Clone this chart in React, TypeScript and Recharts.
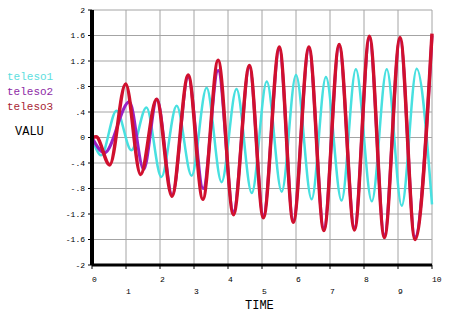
import React from 'react';
import { LineChart, Line, XAxis, YAxis, CartesianGrid } from 'recharts';

// extrema (time, value)
const teleso1 = [
  { t: 0, v: 0 }, { t: 0.27, v: -0.28 }, { t: 0.72, v: 0.42 }, { t: 1.16, v: -0.2 },
  { t: 1.6, v: 0.47 }, { t: 2.04, v: -0.62 }, { t: 2.49, v: 0.5 }, { t: 2.93, v: -0.6 },
  { t: 3.37, v: 0.78 }, { t: 3.81, v: -0.7 }, { t: 4.25, v: 0.76 }, { t: 4.7, v: -0.87 },
  { t: 5.14, v: 0.88 }, { t: 5.58, v: -0.85 }, { t: 6.0, v: 0.98 }, { t: 6.46, v: -0.97 },
  { t: 6.88, v: 0.95 }, { t: 7.34, v: -0.99 }, { t: 7.76, v: 1.07 }, { t: 8.23, v: -1.0 },
  { t: 8.67, v: 1.07 }, { t: 9.11, v: -1.07 }, { t: 9.55, v: 1.08 }, { t: 10, v: -1.05 },
];

const teleso2 = [
  { t: 0, v: 0 }, { t: 0.37, v: -0.24 }, { t: 1.1, v: 0.56 }, { t: 1.52, v: -0.5 },
  { t: 1.91, v: 0.6 }, { t: 2.36, v: -0.9 }, { t: 2.83, v: 0.95 }, { t: 3.27, v: -0.8 },
  { t: 3.71, v: 1.05 }, { t: 4.16, v: -1.16 }, { t: 4.63, v: 1.1 }, { t: 5.04, v: -1.22 },
  { t: 5.51, v: 1.38 }, { t: 5.92, v: -1.3 }, { t: 6.38, v: 1.39 }, { t: 6.82, v: -1.42 },
  { t: 7.27, v: 1.43 }, { t: 7.72, v: -1.41 }, { t: 8.16, v: 1.55 }, { t: 8.6, v: -1.53 },
  { t: 9.06, v: 1.54 }, { t: 9.5, v: -1.56 }, { t: 10, v: 1.6 },
];

const teleso3 = [
  { t: 0, v: 0 }, { t: 0.12, v: 0.01 }, { t: 0.52, v: -0.43 }, { t: 0.99, v: 0.84 },
  { t: 1.43, v: -0.58 }, { t: 1.9, v: 0.6 }, { t: 2.35, v: -0.92 }, { t: 2.83, v: 0.98 },
  { t: 3.26, v: -0.97 }, { t: 3.71, v: 1.21 }, { t: 4.16, v: -1.21 }, { t: 4.63, v: 1.13 },
  { t: 5.04, v: -1.26 }, { t: 5.51, v: 1.42 }, { t: 5.92, v: -1.33 }, { t: 6.38, v: 1.42 },
  { t: 6.82, v: -1.46 }, { t: 7.27, v: 1.46 }, { t: 7.72, v: -1.45 }, { t: 8.16, v: 1.59 },
  { t: 8.6, v: -1.57 }, { t: 9.06, v: 1.57 }, { t: 9.5, v: -1.6 }, { t: 10, v: 1.63 },
];

const xTicks = [0, 1, 2, 3, 4, 5, 6, 7, 8, 9, 10];
const yTicks = [-2, -1.6, -1.2, -0.8, -0.4, 0, 0.4, 0.8, 1.2, 1.6, 2];

const mono = 'Liberation Mono, DejaVu Sans Mono, monospace';

const fmtY = (v: number) => {
  const s = String(Math.round(v * 10) / 10);
  return s.replace(/^0\./, '.').replace(/^-0\./, '-.');
};

// even labels on the first row, odd ones staggered below
const XTick = (props: any) => {
  const { x, y, payload } = props;
  const odd = payload.value % 2 === 1;
  return (
    <text x={x} y={y + (odd ? 23 : 11)} textAnchor="start" fontSize={8} fontFamily={mono} fill="#000">
      {payload.value}
    </text>
  );
};

const labelStyle: React.CSSProperties = {
  position: 'absolute',
  fontFamily: mono,
  fontSize: 11,
  lineHeight: '12px',
};

export default function App() {
  return (
    <div style={{ position: 'absolute', left: 0, top: 0, width: 449, height: 320, background: '#fff' }}>
      <LineChart width={449} height={320} margin={{ top: 10, right: 17, bottom: 0, left: 0 }}>
        <CartesianGrid stroke="#a4a4a4" />
        <XAxis
          type="number"
          dataKey="t"
          domain={[0, 10]}
          ticks={xTicks}
          interval={0}
          tick={<XTick />}
          tickSize={4}
          tickMargin={2}
          axisLine={{ stroke: '#000', strokeWidth: 3 }}
          tickLine={{ stroke: '#000' }}
          height={55}
        />
        <YAxis
          type="number"
          domain={[-2, 2]}
          ticks={yTicks}
          interval={0}
          tickFormatter={fmtY}
          width={92}
          tickSize={4}
          tickMargin={3}
          tick={{ fontSize: 8, fontFamily: mono, fill: '#000' }}
          axisLine={{ stroke: '#000', strokeWidth: 4 }}
          tickLine={{ stroke: '#000' }}
        />
        <Line data={teleso1} dataKey="v" type="monotone" stroke="#48e0e0" strokeWidth={2.5} dot={false} isAnimationActive={false} />
        <Line data={teleso2} dataKey="v" type="monotone" stroke="#9a22c4" strokeWidth={3} dot={false} isAnimationActive={false} />
        <Line data={teleso3} dataKey="v" type="monotone" stroke="#d0102e" strokeWidth={3.5} dot={false} isAnimationActive={false} />
      </LineChart>
      <div style={{ ...labelStyle, left: 7, top: 71, color: '#5cdede' }}>teleso1</div>
      <div style={{ ...labelStyle, left: 7, top: 86, color: '#8e2aa6' }}>teleso2</div>
      <div style={{ ...labelStyle, left: 7, top: 101, color: '#a82434' }}>teleso3</div>
      <div style={{ ...labelStyle, left: 15, top: 126, fontSize: 12, color: '#000' }}>VALU</div>
      <div style={{ ...labelStyle, left: 245, top: 300, fontSize: 12, color: '#000' }}>TIME</div>
    </div>
  );
}
